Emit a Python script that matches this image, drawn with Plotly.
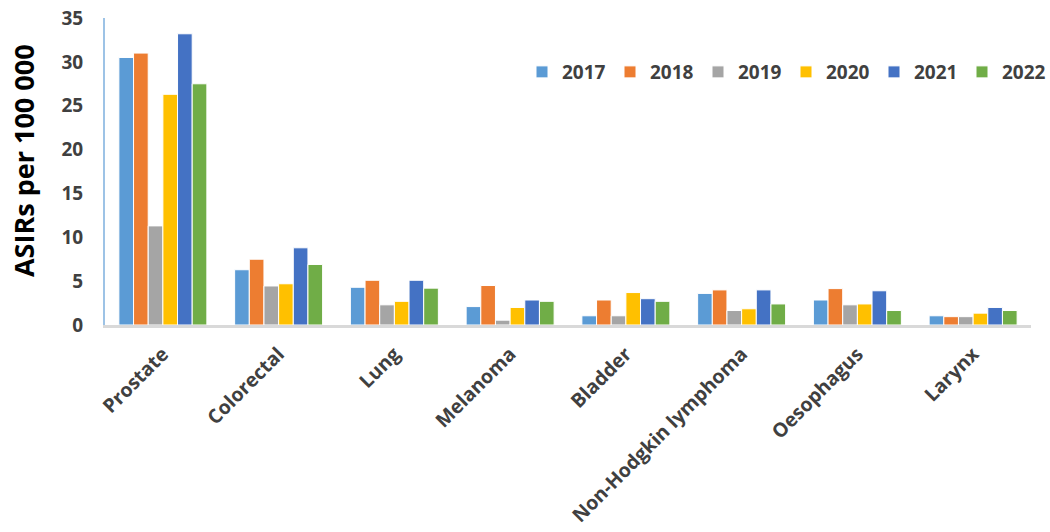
import plotly.graph_objects as go

# Cancer sites and age-standardised incidence rates (per 100 000) by year
sites = ["Prostate", "Colorectal", "Lung", "Melanoma", "Bladder",
         "Non-Hodgkin lymphoma", "Oesophagus", "Larynx"]
years = ["2017", "2018", "2019", "2020", "2021", "2022"]

asir_2017 = [30.5, 6.3, 4.3, 2.1, 1.05, 3.6, 2.85, 1.05]
asir_2018 = [31.0, 7.5, 5.1, 4.5, 2.85, 4.0, 4.15, 0.95]
asir_2019 = [11.3, 4.45, 2.3, 0.55, 1.05, 1.65, 2.3, 0.95]
asir_2020 = [26.3, 4.7, 2.7, 2.0, 3.7, 1.85, 2.4, 1.35]
asir_2021 = [33.2, 8.8, 5.1, 2.85, 3.0, 4.0, 3.9, 2.0]
asir_2022 = [27.5, 6.9, 4.2, 2.7, 2.7, 2.4, 1.65, 1.65]

series = [asir_2017, asir_2018, asir_2019, asir_2020, asir_2021, asir_2022]
colors = ["#5B9BD5", "#ED7D31", "#A5A5A5", "#FFC000", "#4472C4", "#70AD47"]

FONT = "Open Sans"
TEXT = "#404040"

W, H = 1050, 532
L, R, T, B = 105, 0, 18, 207
plot_w = W - L - R
x_end = 926 / plot_w  # x axis stops short so the legend can reach the right edge

fig = go.Figure()
for year, vals, col in zip(years, series, colors):
    fig.add_trace(go.Bar(
        name=year, x=sites, y=vals,
        marker=dict(color=col, line=dict(color="white", width=1)),
    ))

fig.update_layout(
    width=W, height=H,
    margin=dict(l=L, r=R, t=T, b=B),
    paper_bgcolor="white", plot_bgcolor="white",
    barmode="group", bargap=0.24, bargroupgap=0,
    font=dict(family=FONT, color=TEXT),
    legend=dict(
        orientation="h", x=1.0, xanchor="right", y=0.824, yanchor="middle",
        font=dict(family=FONT, size=19, color=TEXT, weight="bold"),
        itemwidth=30, entrywidth=43, entrywidthmode="pixels",
        bgcolor="rgba(0,0,0,0)",
    ),
    xaxis=dict(
        domain=[0, x_end],
        showline=True, linecolor="#D9D9D9", linewidth=3,
        showgrid=False, ticks="", tickangle=-45, automargin=False,
        ticklabelstandoff=7,
        tickfont=dict(family=FONT, size=19.5, color=TEXT, weight="bold"),
    ),
    yaxis=dict(
        range=[0, 35], dtick=5, showline=True, linecolor="#9DC3E6", linewidth=2,
        showgrid=False, zeroline=False, ticks="", automargin=False,
        ticklabelstandoff=16,
        tickfont=dict(family=FONT, size=19, color=TEXT, weight="bold"),
    ),
    annotations=[dict(
        text="ASIRs per 100 000", textangle=-90,
        xref="paper", yref="paper", x=(23 - L) / plot_w, y=0.534,
        xanchor="center", yanchor="middle", showarrow=False,
        font=dict(family=FONT, size=27, color="#000000", weight="bold"),
    )],
)

fig.write_html("out.html")
